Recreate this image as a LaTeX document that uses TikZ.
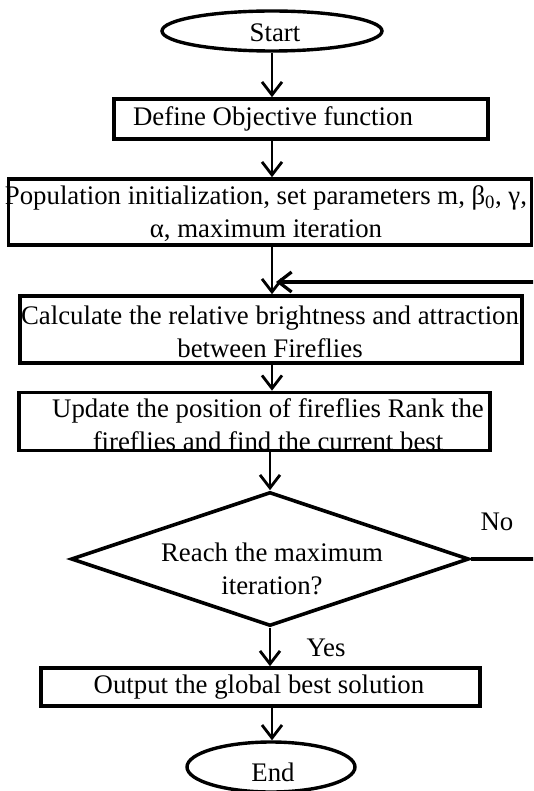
\documentclass[tikz,border=0pt]{standalone}
\usepackage{fontspec}
\setmainfont{Liberation Serif}
\usetikzlibrary{shapes.geometric,arrows.meta}
\begin{document}
\begin{tikzpicture}[x=1pt,y=-1pt,
  box/.style={draw,line width=3.6pt,rectangle,inner sep=0pt},
  oval/.style={draw,line width=3.4pt,ellipse,inner sep=0pt},
  dia/.style={draw,line width=3.6pt,diamond,inner sep=0pt},
  txt/.style={inner sep=0pt,align=center,font=\fontsize{26.8}{33}\selectfont},
  arr/.style={line width=2.8pt,-{Straight Barb[length=13pt,width=20pt]}},
  ln/.style={line width=3.2pt}]
\clip (0,0) rectangle (533,791);
\coordinate (axis) at (272,0);
\coordinate (axR) at (538,0);
% shapes
\node[oval,minimum width=220pt,minimum height=40pt] (start) at (272,31) {};
\node[box,minimum width=374pt,minimum height=40pt] (def) at (301,119) {};
\node[box,minimum width=523pt,minimum height=66pt] (pop) at (270,212) {};
\node[box,minimum width=502pt,minimum height=67pt] (calc) at (271,329.5) {};
\node[box,minimum width=471pt,minimum height=58pt] (upd) at (254.5,421.5) {};
\node[dia,minimum width=398pt,minimum height=134pt] (dec) at (270,559) {};
\node[box,minimum width=439pt,minimum height=38pt] (out) at (260.5,687) {};
\node[oval,minimum width=168pt,minimum height=50pt] (end) at (271,767) {};
% texts
\node[txt] (startt) at (275,33) {Start};
\node[txt] (deft) at (273,119) {Define Objective function};
\node[txt] (popt) at (266,214) {Population initialization, set parameters m, β\textsubscript{0}, γ,\\ α, maximum iteration};
\node[txt] (calct) at (270,331.5) {Calculate the relative brightness and attraction\\ between Fireflies};
\node[txt] (updt) at (268,425) {Update the position of fireflies Rank the\\ fireflies and find the current best};
\node[txt] (dect) at (272,569) {Reach the maximum\\ iteration?};
\node[txt] (outt) at (259,687) {Output the global best solution};
\node[txt] (endt) at (273,772) {End};
\node[txt] (no) at (497,522) {No};
\node[txt] (yes) at (326,648) {Yes};
% connectors
\coordinate (fb) at (276,282);
\draw[arr] (start.south -| axis) -- (def.north -| axis);
\draw[arr] (def.south -| axis) -- (pop.north -| axis);
\draw[arr] (pop.south -| axis) -- (calc.north -| axis);
\draw[arr] (calc.south -| axis) -- (upd.north -| axis);
\draw[arr] (upd.south -| dec.north) -- (dec.north);
\draw[arr] (dec.south) -- (out.north -| dec.south);
\draw[arr] (out.south -| axis) -- (end.north -| axis);
\draw[ln] (dec.east) -- (axR |- dec.east) -- (axR |- fb) -- ([xshift=10pt]fb);
\draw[arr,line width=3.2pt] ([xshift=10pt]fb) -- (fb);
\end{tikzpicture}
\end{document}
